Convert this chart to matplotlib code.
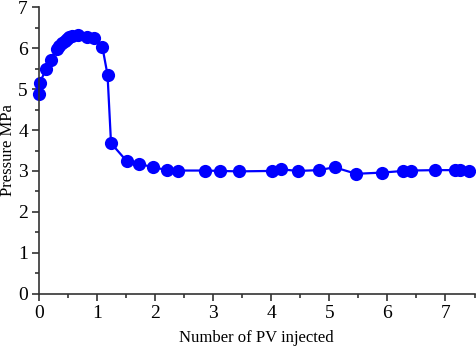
import matplotlib
matplotlib.use("Agg")
import matplotlib.pyplot as plt
from matplotlib.ticker import MultipleLocator

pv_injected = [0.0, 0.01, 0.126, 0.207, 0.305, 0.35, 0.40, 0.44, 0.48, 0.52, 0.56, 0.67,
               0.83, 0.95, 1.09, 1.18, 1.24, 1.51, 1.73, 1.97, 2.21, 2.40, 2.86, 3.12,
               3.44, 4.01, 4.17, 4.46, 4.82, 5.09, 5.46, 5.91, 6.27, 6.40, 6.82, 7.16,
               7.25, 7.40]
pressure = [4.89, 5.16, 5.49, 5.71, 5.99, 6.06, 6.12, 6.18, 6.23, 6.27, 6.31, 6.33,
            6.28, 6.24, 6.04, 5.35, 3.68, 3.24, 3.17, 3.09, 3.02, 3.01, 3.01, 3.0,
            2.99, 3.0, 3.04, 3.0, 3.02, 3.09, 2.93, 2.96, 3.0, 3.01, 3.02, 3.02,
            3.02, 3.0]

plt.rcParams['font.family'] = ['Liberation Serif', 'DejaVu Serif']

fig = plt.figure(figsize=(4.77, 3.5), dpi=100)
ax = fig.add_axes([0.0818, 0.161, 0.913, 0.818])
ax.plot(pv_injected, pressure, color='#0000ff', lw=1.6, marker='o', ms=9.5,
        markeredgewidth=0, clip_on=False)
ax.set_xlim(0, 7.5)
ax.set_ylim(0, 7)
ax.xaxis.set_major_locator(MultipleLocator(1))
ax.xaxis.set_minor_locator(MultipleLocator(0.5))
ax.yaxis.set_major_locator(MultipleLocator(1))
ax.yaxis.set_minor_locator(MultipleLocator(0.5))
for s in ['top', 'right']:
    ax.spines[s].set_visible(False)
for s in ['left', 'bottom']:
    ax.spines[s].set_linewidth(1.2)
    ax.spines[s].set_color('#333333')
ax.tick_params(which='major', direction='out', length=5, width=1.2, color='#333333',
               labelsize=14, pad=3)
ax.tick_params(which='minor', direction='out', length=3, width=1.2, color='#333333')
ax.set_xlabel('Number of PV injected', fontsize=12, labelpad=6)
ax.set_ylabel('Pressure MPa', fontsize=12)
ax.yaxis.set_label_coords(-0.052, 0.5)
fig.savefig('out.png', dpi=100)
